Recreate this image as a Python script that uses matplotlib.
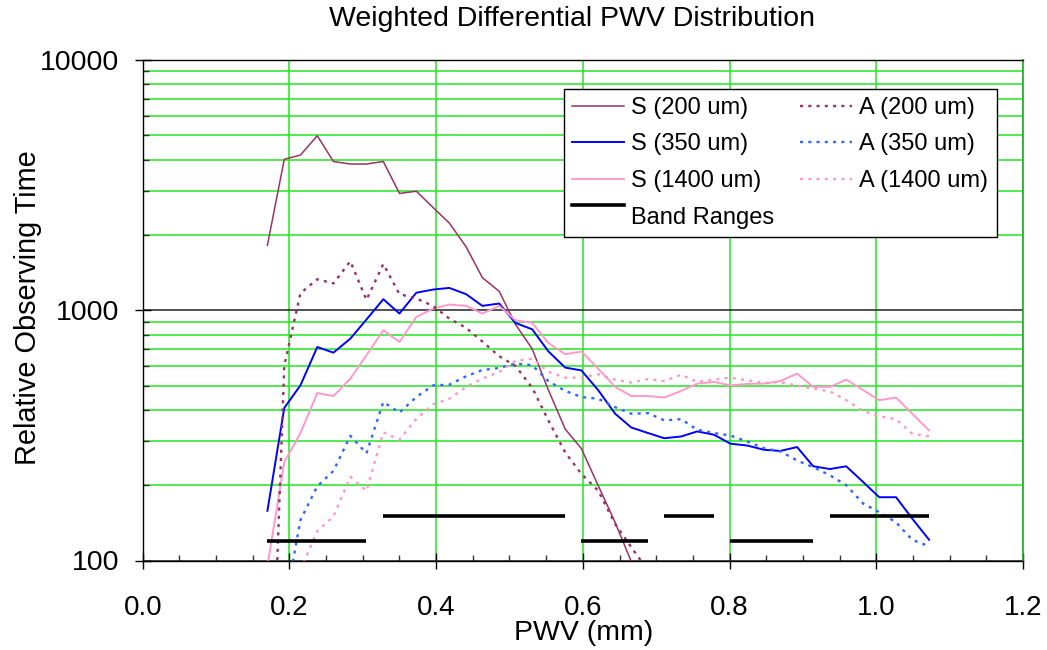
import numpy as np
import matplotlib
matplotlib.use("Agg")
import matplotlib.pyplot as plt
from matplotlib.lines import Line2D
from matplotlib.legend_handler import HandlerLine2D
from matplotlib.ticker import MultipleLocator, LogLocator, NullFormatter, FixedLocator, FixedFormatter

plt.rcParams['font.family'] = ['Liberation Sans', 'DejaVu Sans']

# ---------------- data ----------------
pwv = [0.170, 0.193, 0.215, 0.238, 0.260, 0.283, 0.305, 0.328, 0.350, 0.373,
       0.396, 0.418, 0.441, 0.463, 0.486, 0.508, 0.531, 0.553, 0.576, 0.598,
       0.621, 0.644, 0.666, 0.689, 0.711, 0.734, 0.756, 0.779, 0.801, 0.824,
       0.847, 0.869, 0.892, 0.914, 0.937, 0.959, 0.982, 1.004, 1.027, 1.049,
       1.072]

nan = float('nan')
s200 = [1820, 4010, 4170, 4980, 3930, 3840, 3840, 3930, 2930, 2990,
        2570, 2230, 1790, 1350, 1190, 880, 700, 480, 335, 280,
        199, 142, 99] + [nan] * 18
a200 = [8, 600, 1170, 1330, 1280, 1570, 1100, 1530, 1160, 1115,
        1040, 926, 850, 750, 655, 600, 490, 363, 270, 222,
        190, 140, 113, 91] + [nan] * 17
s350 = [158, 407, 501, 713, 677, 770, 918, 1107, 970, 1175,
        1210, 1228, 1159, 1041, 1064, 890, 839, 685, 590, 575,
        479, 386, 340, 323, 308, 313, 328, 318, 293, 288,
        277, 274, 284, 238, 232, 238, 206, 179, 179, 147,
        121]
a350 = [30, 64, 145, 198, 228, 315, 268, 430, 390, 450,
        501, 504, 545, 577, 588, 612, 603, 521, 476, 450,
        443, 410, 386, 388, 363, 367, 333, 323, 316, 299,
        281, 273, 251, 236, 219, 200, 169, 156, 142, 121,
        114]
s1400 = [95, 247, 323, 467, 454, 533, 661, 832, 747, 940,
         1016, 1054, 1041, 970, 1041, 912, 890, 740, 667, 684,
         584, 494, 454, 454, 448, 476, 509, 517, 501, 508,
         509, 521, 558, 494, 494, 528, 480, 437, 448, 386,
         331]
a1400 = [20, 50, 92, 131, 150, 216, 190, 325, 304, 368,
         421, 443, 494, 533, 567, 627, 641, 567, 538, 538,
         555, 528, 514, 531, 521, 553, 517, 528, 538, 525,
         512, 516, 500, 486, 474, 437, 396, 377, 367, 321,
         313]

band_start = [0.170, 0.328, 0.598, 0.711, 0.801, 0.937]
band_end = [0.305, 0.576, 0.689, 0.779, 0.914, 1.072]
band_level = [120, 150, 120, 150, 120, 150]

x_ticks = [0.0, 0.2, 0.4, 0.6, 0.8, 1.0, 1.2]
x_labels = ['0.0', '0.2', '0.4', '0.6', '0.8', '1.0', '1.2']
y_ticks = [100, 1000, 10000]
y_labels = ['100', '1000', '10000']

# ---------------- style ----------------
GREEN = '#22e622'
MAROON = '#993366'
BLUE = '#0000ff'
LBLUE = '#3366ff'
PINK = '#ff99cc'

W, H = 1047, 650
fig = plt.figure(figsize=(W / 100, H / 100), dpi=100)
L, R, T, B = 142.7, 1023.0, 60.0, 560.5
ax = fig.add_axes([L / W, 1 - B / H, (R - L) / W, (B - T) / H])
ax.set_yscale('log')
ax.set_xlim(0, 1.2)
ax.set_ylim(100, 10000)

ax.set_axisbelow(True)
ax.xaxis.set_major_locator(FixedLocator(x_ticks))
ax.xaxis.set_major_formatter(FixedFormatter(x_labels))
ax.xaxis.set_minor_locator(MultipleLocator(0.05))
ax.yaxis.set_major_locator(FixedLocator(y_ticks))
ax.yaxis.set_major_formatter(FixedFormatter(y_labels))
ax.yaxis.set_minor_locator(LogLocator(base=10, subs=np.arange(2, 10)))
ax.yaxis.set_minor_formatter(NullFormatter())

ax.xaxis.grid(True, which='major', color=GREEN, lw=1.1)
ax.yaxis.grid(True, which='minor', color=GREEN, lw=1.1)
ax.yaxis.grid(True, which='major', color='#222222', lw=1.1)

ax.tick_params(axis='both', which='major', direction='inout', length=12,
               width=1.0, labelsize=20, color='black')
ax.tick_params(axis='x', which='major', pad=19)
ax.tick_params(axis='y', which='major', pad=11, labelsize=20.5)
ax.tick_params(axis='both', which='minor', direction='in', length=4.5,
               width=1.0, color='#333333')

for side in ['left', 'bottom', 'top']:
    ax.spines[side].set_color('black')
    ax.spines[side].set_linewidth(1.0)
ax.spines['right'].set_color('#1fae1f')
ax.spines['right'].set_linewidth(1.2)

dot = (0, (1.3, 2.2))
h_s200, = ax.plot(pwv, s200, color=MAROON, lw=1.1, label='S (200 um)')
h_s350, = ax.plot(pwv, s350, color=BLUE, lw=1.4, label='S (350 um)')
h_s1400, = ax.plot(pwv, s1400, color=PINK, lw=1.4, label='S (1400 um)')
h_a200, = ax.plot(pwv, a200, color=MAROON, lw=1.7, linestyle=dot, label='A (200 um)')
h_a350, = ax.plot(pwv, a350, color=LBLUE, lw=1.7, linestyle=dot, label='A (350 um)')
h_a1400, = ax.plot(pwv, a1400, color=PINK, lw=1.7, linestyle=dot, label='A (1400 um)')
ax.hlines(band_level, band_start, band_end, color='black', lw=2.6, zorder=3)
h_band = Line2D([], [], color='black', lw=2.6, label='Band Ranges')


class RaisedLine(HandlerLine2D):
    def create_artists(self, legend, orig_handle, xdescent, ydescent, width,
                       height, fontsize, trans):
        return super().create_artists(legend, orig_handle, xdescent,
                                      ydescent - 0.85 * fontsize, width,
                                      height, fontsize, trans)


handles = [h_s200, h_s350, h_s1400, h_band, h_a200, h_a350, h_a1400]
labels = [h.get_label() for h in handles]
leg = ax.legend(handles, labels, ncol=2, loc='upper right',
                bbox_to_anchor=(0.970, 0.943), borderaxespad=0,
                fontsize=17, frameon=True, fancybox=False, shadow=False,
                handlelength=2.2, handletextpad=0.3, columnspacing=1.1,
                labelspacing=0.62, borderpad=0.35,
                handler_map={h_band: RaisedLine()})
leg.get_frame().set_edgecolor('black')
leg.get_frame().set_linewidth(1.0)
leg.get_frame().set_facecolor('white')
leg.get_frame().set_alpha(1.0)

fig.text(572 / W, 1 - 19 / H, 'Weighted Differential PWV Distribution',
         ha='center', va='center', fontsize=20.5)
fig.text(584 / W, 1 - 633 / H, 'PWV (mm)', ha='center', va='center', fontsize=20.5)
fig.text(28 / W, 1 - 308 / H, 'Relative Observing Time', ha='center', va='center',
         rotation=90, fontsize=20.8)

fig.savefig('out.png', dpi=100)
